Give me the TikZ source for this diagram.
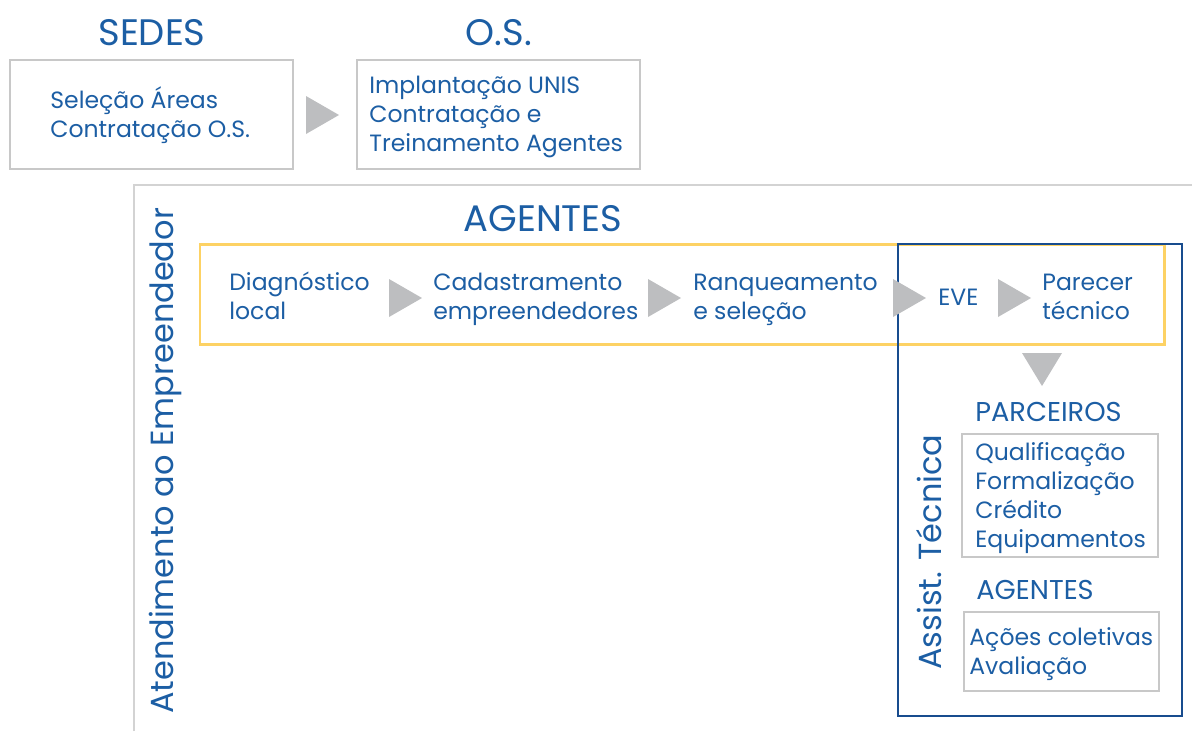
\documentclass[tikz,border=0pt]{standalone}
\usepackage{fontspec}
\setmainfont{Poppins}
\definecolor{txtblue}{RGB}{28,94,164}
\definecolor{navy}{RGB}{24,76,142}
\definecolor{gold}{RGB}{253,210,100}
\definecolor{boxgray}{RGB}{200,200,200}
\definecolor{trigray}{RGB}{189,190,192}

% gray arrow head, apex pointing right
\newcommand{\arrowtri}[1]{\fill[trigray] (#1) ++(-16,-19) -- ++(33,19) -- ++(-33,19) -- cycle;}

\begin{document}
\begin{tikzpicture}
[x=0.02cm, y=-0.02cm,
 title/.style={text=txtblue,font=\fontsize{21}{24}\selectfont,inner sep=0pt},
 subtitle/.style={text=txtblue,font=\fontsize{15.5}{18}\selectfont,anchor=west,inner sep=0pt},
 body/.style={text=txtblue,font=\fontsize{13.4}{16.6}\selectfont,align=left,anchor=west,inner sep=0pt},
 vtitle/.style={text=txtblue,font=\fontsize{18.2}{21}\selectfont,rotate=90,inner sep=0pt},
 grayline/.style={draw=boxgray,line width=0.9pt},
 goldline/.style={draw=gold,line width=1.7pt},
 navyline/.style={draw=navy,line width=1.4pt}]
\useasboundingbox (0,0) rectangle (1192,731);

% top row
\node[title] (sedes) at (152,33) {SEDES};
\node[title] (os) at (499,33) {O.S.};
\draw[grayline] (10,60) rectangle (293,169);
\draw[grayline] (357,60) rectangle (640,169);
\node[body] (selecao) at (50,115) {Seleção Áreas\\Contratação O.S.};
\node[body] (implant) at (369,117) {Implantação UNIS\\Contratação e\\Treinamento Agentes};
\arrowtri{322,115}

% frame
\draw[grayline,draw=boxgray!80] (134,731) -- (134,185) -- (1192,185);
\node[vtitle] (atend) at (165,461) {Atendimento ao Empreendedor};
\node[title] (agentes) at (543,219) {AGENTES};

\draw[goldline] (200,244) rectangle (1164,344);
\draw[navyline] (898,244) rectangle (1182,716);

\node[body] (diag) at (229,296) {Diagnóstico\\local};
\node[body] (cadast) at (433,299.5) {Cadastramento\\empreendedores};
\node[body] (ranq) at (693,300) {Ranqueamento\\e seleção};
\node[body] (eve) at (938,297) {EVE};
\node[body] (parecer) at (1042,297) {Parecer\\técnico};
\arrowtri{405,298}
\arrowtri{664,298}
\arrowtri{909,298}
\arrowtri{1014,298}
\fill[trigray] (1022,353) -- (1062,353) -- (1042,386) -- cycle;

% assistencia tecnica
\node[vtitle] (assist) at (929,552) {Assist. Técnica};
\node[subtitle] (parc) at (975,412) {PARCEIROS};
\draw[grayline] (962,434) rectangle (1158,557);
\node[body] (qualif) at (975,498) {Qualificação\\Formalização\\Crédito\\Equipamentos};
\node[subtitle] (agentes2) at (976,590) {AGENTES};
\draw[grayline] (964,612) rectangle (1159,691);
\node[body] (acoes) at (969,654) {Ações coletivas\\Avaliação};
\end{tikzpicture}
\end{document}
